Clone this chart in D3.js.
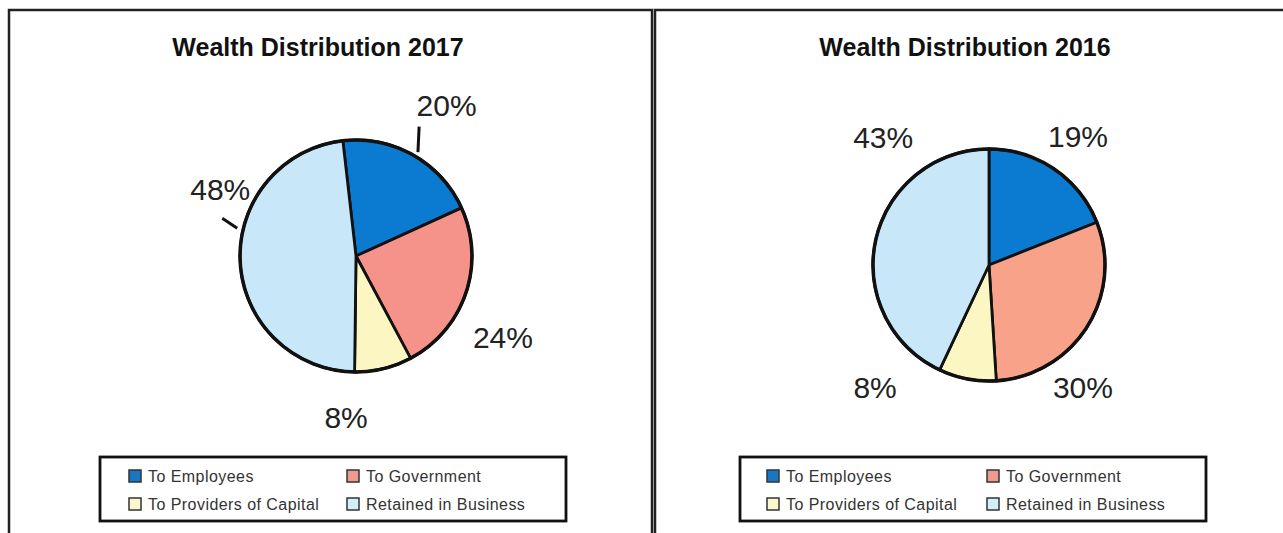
<!DOCTYPE html>
<html>
<head>
<meta charset="utf-8">
<script src="https://cdn.jsdelivr.net/npm/d3@7"></script>
<style>
  html, body { margin: 0; padding: 0; background: #fff; }
  svg { display: block; font-family: "Liberation Sans", Arial, sans-serif; }
</style>
</head>
<body>
<svg id="chart" width="1283" height="533"></svg>
<script>
// Wealth distribution shares by year
const categories = ["To Employees", "To Government", "To Providers of Capital", "Retained in Business"];
const values2017 = [20, 24, 8, 48];
const values2016 = [19, 30, 8, 43];
const years = ["2017", "2016"];
const titlePrefix = "Wealth Distribution ";

// Slice fills per year (the government slice is a touch more orange in 2016)
const colors2017 = ["#0b7bd2", "#f5928a", "#fcf7c2", "#c8e8fa"];
const colors2016 = ["#0b7bd2", "#f9a28a", "#fcf7c2", "#c8e8fa"];
const legendColors = ["#1777c4", "#ee9a8e", "#fbf6cc", "#d2eef9"];

const svg = d3.select("#chart");
const deg = Math.PI / 180;

// Panel frames, pie geometry and label placements (polar: degrees clockwise from top, distance from centre)
const panels = [
  {
    year: years[0], values: values2017, colors: colors2017,
    frame: {x: 9, y: 10, w: 643, h: 540},
    cx: 356, cy: 256, r: 116, start: -6.5,
    titleX: 318,
    labels: [[31, 176], [119, 168], [183.5, 162], [296, 151]],
    leaders: [
      {from: [30.8, 121], to: [26, 144]},
      {from: [283.2, 122], to: [285.8, 139]}
    ],
    legend: {x: 100, y: 457, w: 466, h: 64, col1: 129, col2: 347}
  },
  {
    year: years[1], values: values2016, colors: colors2016,
    frame: {x: 655, y: 10, w: 700, h: 540},
    cx: 989, cy: 265, r: 116, start: 0,
    titleX: 965,
    labels: [[34.8, 156], [142.4, 154], [223, 167], [320.4, 166]],
    leaders: [],
    legend: {x: 740, y: 457, w: 466, h: 64, col1: 767, col2: 987}
  }
];

function polar(cx, cy, angleDeg, dist) {
  const a = angleDeg * deg;
  return [cx + dist * Math.sin(a), cy - dist * Math.cos(a)];
}

panels.forEach(p => {
  const g = svg.append("g");

  // panel frame
  g.append("rect")
    .attr("x", p.frame.x).attr("y", p.frame.y)
    .attr("width", p.frame.w).attr("height", p.frame.h)
    .attr("fill", "#fff").attr("stroke", "#222").attr("stroke-width", 2.5);

  // title
  g.append("text")
    .attr("x", p.titleX).attr("y", 56)
    .attr("text-anchor", "middle")
    .attr("font-size", 25).attr("font-weight", "bold").attr("fill", "#111")
    .text(titlePrefix + p.year);

  // pie
  const pie = d3.pie().sort(null)
    .startAngle(p.start * deg).endAngle((p.start + 360) * deg);
  const arc = d3.arc().innerRadius(0).outerRadius(p.r);
  const arcs = pie(p.values);

  const pg = g.append("g").attr("transform", `translate(${p.cx},${p.cy})`);
  pg.selectAll("path")
    .data(arcs)
    .join("path")
    .attr("d", arc)
    .attr("fill", (d, i) => p.colors[i])
    .attr("stroke", "#111").attr("stroke-width", 2.8).attr("stroke-linejoin", "round");
  pg.append("circle").attr("r", p.r)
    .attr("fill", "none").attr("stroke", "#111").attr("stroke-width", 3.5);

  // leader lines
  p.leaders.forEach(l => {
    const a = polar(p.cx, p.cy, l.from[0], l.from[1]);
    const b = polar(p.cx, p.cy, l.to[0], l.to[1]);
    g.append("line")
      .attr("x1", a[0]).attr("y1", a[1]).attr("x2", b[0]).attr("y2", b[1])
      .attr("stroke", "#111").attr("stroke-width", 3);
  });

  // percentage labels
  arcs.forEach((d, i) => {
    const pos = polar(p.cx, p.cy, p.labels[i][0], p.labels[i][1]);
    g.append("text")
      .attr("x", pos[0]).attr("y", pos[1])
      .attr("text-anchor", "middle").attr("dominant-baseline", "central")
      .attr("font-size", 30).attr("fill", "#222")
      .text(d.data + "%");
  });

  // legend
  const L = p.legend;
  g.append("rect")
    .attr("x", L.x).attr("y", L.y).attr("width", L.w).attr("height", L.h)
    .attr("fill", "#fff").attr("stroke", "#111").attr("stroke-width", 2.8);
  const rows = [L.y + 19, L.y + 47];
  const cols = [L.col1, L.col2];
  const order = [0, 1, 2, 3];
  order.forEach((ci, k) => {
    const x = cols[k % 2], y = rows[Math.floor(k / 2)];
    g.append("rect")
      .attr("x", x).attr("y", y - 6).attr("width", 12).attr("height", 12)
      .attr("fill", legendColors[ci]).attr("stroke", "#333").attr("stroke-width", 1.5);
    g.append("text")
      .attr("x", x + 19).attr("y", y)
      .attr("dominant-baseline", "central")
      .attr("font-size", 16).attr("letter-spacing", 0.45).attr("fill", "#333")
      .text(categories[ci]);
  });
});
</script>
</body>
</html>
